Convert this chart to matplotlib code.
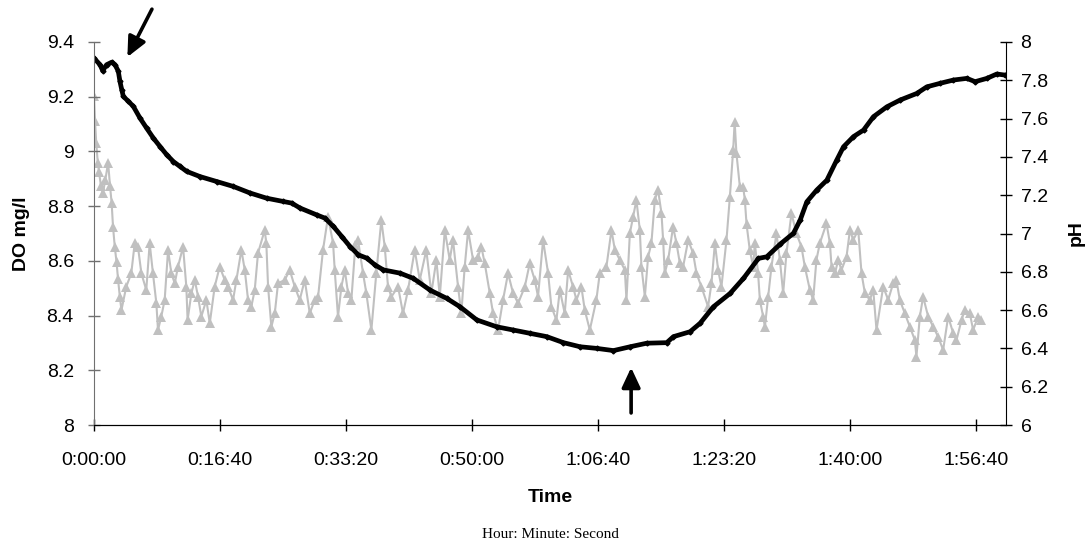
"""DO and pH over a ~2 h run, dual y-axis, Excel-style look."""

import matplotlib
matplotlib.use("Agg")
import matplotlib.pyplot as plt
from matplotlib.ticker import FuncFormatter, MultipleLocator

plt.rcParams["font.family"] = ["Liberation Sans", "DejaVu Sans"]

# dissolved oxygen, mg/l (time in seconds)
do_t = [0, 48, 69, 100, 140, 167, 193, 206, 220, 233, 273, 312, 365, 418, 471,
        524, 577, 630, 683, 736, 842, 974, 1106, 1239, 1371, 1503, 1570, 1636,
        1768, 1834, 1900, 1967, 2033, 2099, 2165, 2231, 2297, 2430, 2535, 2668,
        2800, 2906, 3039, 3197, 3330, 3462, 3594, 3727, 3859, 3992, 4124, 4256,
        4388, 4547, 4600, 4732, 4812, 4917, 5050, 5156, 5275, 5341, 5447, 5553,
        5606, 5659, 5738, 5818, 5897, 5950, 6029, 6109, 6188, 6294, 6400, 6532,
        6611, 6717, 6823, 6929, 6995, 7088, 7167, 7233]
do_val = [9.341, 9.317, 9.295, 9.317, 9.326, 9.317, 9.293, 9.256, 9.226, 9.201,
          9.183, 9.165, 9.122, 9.085, 9.049, 9.018, 8.988, 8.963, 8.945, 8.927,
          8.908, 8.890, 8.872, 8.848, 8.829, 8.817, 8.811, 8.793, 8.768, 8.756,
          8.726, 8.689, 8.652, 8.622, 8.610, 8.585, 8.567, 8.555, 8.536, 8.493,
          8.463, 8.432, 8.384, 8.359, 8.347, 8.335, 8.323, 8.301, 8.286, 8.280,
          8.272, 8.286, 8.299, 8.301, 8.323, 8.341, 8.372, 8.432, 8.481, 8.536,
          8.609, 8.615, 8.661, 8.701, 8.749, 8.816, 8.859, 8.895, 8.969, 9.017,
          9.054, 9.078, 9.127, 9.163, 9.188, 9.212, 9.236, 9.249, 9.261, 9.267,
          9.255, 9.267, 9.283, 9.279]

# pH readings
ph_t = [0, 8, 18, 30, 40, 55, 70, 90, 112, 127, 140, 151, 165, 179, 191, 205,
        218, 256, 296, 323, 349, 376, 415, 442, 468, 495, 508, 534, 561, 588,
        614, 641, 667, 707, 733, 743, 773, 800, 826, 852, 892, 919, 958, 998,
        1038, 1064, 1104, 1130, 1170, 1197, 1223, 1249, 1276, 1302, 1355, 1368,
        1382, 1408, 1435, 1461, 1514, 1554, 1594, 1633, 1673, 1713, 1752, 1779,
        1818, 1858, 1898, 1911, 1937, 1964, 1991, 2017, 2043, 2075, 2096, 2136,
        2162, 2202, 2241, 2281, 2308, 2334, 2361, 2414, 2453, 2493, 2546, 2586,
        2638, 2678, 2718, 2745, 2785, 2824, 2850, 2890, 2916, 2943, 2970, 3009,
        3049, 3075, 3102, 3142, 3168, 3208, 3247, 3287, 3327, 3367, 3420, 3459,
        3499, 3525, 3565, 3605, 3631, 3671, 3698, 3737, 3764, 3803, 3830, 3869,
        3896, 3936, 3988, 4015, 4068, 4108, 4135, 4174, 4214, 4227, 4254, 4280,
        4306, 4333, 4346, 4373, 4399, 4425, 4452, 4478, 4505, 4518, 4531, 4558,
        4597, 4624, 4651, 4677, 4717, 4756, 4783, 4822, 4875, 4902, 4929, 4955,
        4981, 5021, 5048, 5074, 5086, 5100, 5127, 5153, 5167, 5180, 5206, 5233,
        5246, 5272, 5286, 5312, 5326, 5352, 5378, 5418, 5445, 5471, 5497, 5537,
        5576, 5616, 5643, 5683, 5709, 5735, 5762, 5815, 5842, 5855, 5882, 5908,
        5934, 5974, 6001, 6027, 6067, 6093, 6120, 6159, 6186, 6212, 6265, 6305,
        6344, 6370, 6397, 6437, 6477, 6516, 6529, 6556, 6582, 6622, 6662, 6701,
        6741, 6781, 6821, 6847, 6887, 6913, 6953, 6979, 7019, 7045]
ph_val = [7.72, 7.59, 7.47, 7.37, 7.32, 7.25, 7.21, 7.28, 7.37, 7.25, 7.16,
          7.035, 6.93, 6.85, 6.76, 6.67, 6.60, 6.722, 6.792, 6.949, 6.931,
          6.792, 6.705, 6.949, 6.792, 6.636, 6.496, 6.566, 6.653, 6.914, 6.792,
          6.74, 6.827, 6.931, 6.722, 6.548, 6.688, 6.757, 6.670, 6.566, 6.653,
          6.531, 6.722, 6.827, 6.757, 6.722, 6.653, 6.757, 6.914, 6.809, 6.653,
          6.618, 6.705, 6.897, 7.018, 6.949, 6.722, 6.513, 6.583, 6.740, 6.757,
          6.809, 6.722, 6.653, 6.757, 6.583, 6.653, 6.670, 6.914, 7.088, 6.949,
          6.809, 6.566, 6.722, 6.809, 6.688, 6.653, 6.94, 6.966, 6.792, 6.688,
          6.496, 6.792, 7.07, 6.931, 6.722, 6.670, 6.722, 6.583, 6.705, 6.914,
          6.757, 6.914, 6.688, 6.862, 6.670, 7.018, 6.862, 6.966, 6.722, 6.583,
          6.827, 7.018, 6.862, 6.879, 6.931, 6.844, 6.688, 6.583, 6.496, 6.653,
          6.792, 6.688, 6.636, 6.722, 6.844, 6.757, 6.670, 6.966, 6.792, 6.618,
          6.548, 6.705, 6.583, 6.809, 6.722, 6.653, 6.722, 6.60, 6.496, 6.653,
          6.792, 6.827, 7.018, 6.914, 6.862, 6.809, 6.653, 7.001, 7.088, 7.175,
          7.018, 6.827, 6.670, 6.879, 6.949, 7.175, 7.227, 7.105, 6.966, 6.792,
          6.862, 7.035, 6.949, 6.844, 6.827, 6.966, 6.897, 6.792, 6.722, 6.618,
          6.740, 6.949, 6.809, 6.722, 6.966, 7.192, 7.436, 7.584, 7.419, 7.245,
          7.245, 7.175, 7.05, 6.914, 6.827, 6.949, 6.792, 6.653, 6.566, 6.513,
          6.670, 6.827, 7.001, 6.862, 6.688, 6.897, 7.105, 7.001, 6.931, 6.827,
          6.705, 6.653, 6.862, 6.949, 7.053, 6.949, 6.827, 6.792, 6.862, 6.809,
          6.879, 7.018, 6.966, 7.018, 6.792, 6.688, 6.653, 6.705, 6.496, 6.722,
          6.653, 6.740, 6.757, 6.653, 6.583, 6.513, 6.444, 6.357, 6.566, 6.670,
          6.566, 6.513, 6.461, 6.392, 6.566, 6.479, 6.444, 6.548, 6.60, 6.583,
          6.496, 6.566, 6.548]

x_ticks = list(range(0, 8000, 1000))


def hms(sec, _pos=None):
    sec = int(round(sec))
    return f"{sec // 3600}:{sec % 3600 // 60:02d}:{sec % 60:02d}"


fig = plt.figure(figsize=(10.88, 5.46), dpi=100)
ax = fig.add_axes([94 / 1088, 1 - 425 / 546, 912 / 1088, 383 / 546])
ax2 = ax.twinx()

ax2.plot(ph_t, ph_val, color="#c0c0c0", lw=1.5, marker="^", ms=7,
         markeredgewidth=0)
ax.plot(do_t, do_val, color="black", lw=3.4, marker="D", ms=2.5)
ax.set_zorder(ax2.get_zorder() + 1)
ax.patch.set_visible(False)

ax.set_xlim(0, 7240)
ax.set_ylim(8, 9.4)
ax2.set_ylim(6, 8)
ax.set_xticks(x_ticks)
ax.xaxis.set_major_formatter(FuncFormatter(hms))
ax.yaxis.set_major_locator(MultipleLocator(0.2))
ax2.yaxis.set_major_locator(MultipleLocator(0.2))
ax.yaxis.set_major_formatter(FuncFormatter(lambda v, p: f"{v:g}"))
ax2.yaxis.set_major_formatter(FuncFormatter(lambda v, p: f"{v:g}"))

for a in (ax, ax2):
    a.spines["top"].set_visible(False)
    a.tick_params(direction="inout", length=9, width=1, labelsize=14)
ax.tick_params(axis="x", pad=15)
ax.tick_params(axis="y", pad=10, color="#707070")
ax2.tick_params(axis="y", pad=6)
ax.spines["left"].set_color("#707070")
ax.spines["right"].set_visible(False)
ax2.spines["left"].set_visible(False)

ax.set_ylabel("DO mg/l", fontsize=14, fontweight="bold", labelpad=12)
ax2.set_ylabel("pH", fontsize=14, fontweight="bold", labelpad=14)
ax.set_xlabel("Time", fontsize=14, fontweight="bold", labelpad=14)
fig.text(550 / 1088, 1 - 535 / 546, "Hour: Minute: Second", ha="center",
         va="center", fontsize=11, family=["Liberation Serif", "DejaVu Serif"])

arrow = dict(arrowstyle="-|>,head_length=0.6,head_width=0.28", lw=2.6,
             color="black", mutation_scale=20, shrinkA=0, shrinkB=0)
ax.annotate("", xy=(265, 9.345), xytext=(460, 9.52), arrowprops=arrow,
            annotation_clip=False)
ax.annotate("", xy=(4264, 8.21), xytext=(4264, 8.044), arrowprops=arrow,
            annotation_clip=False)

fig.savefig("out.png", dpi=100)
